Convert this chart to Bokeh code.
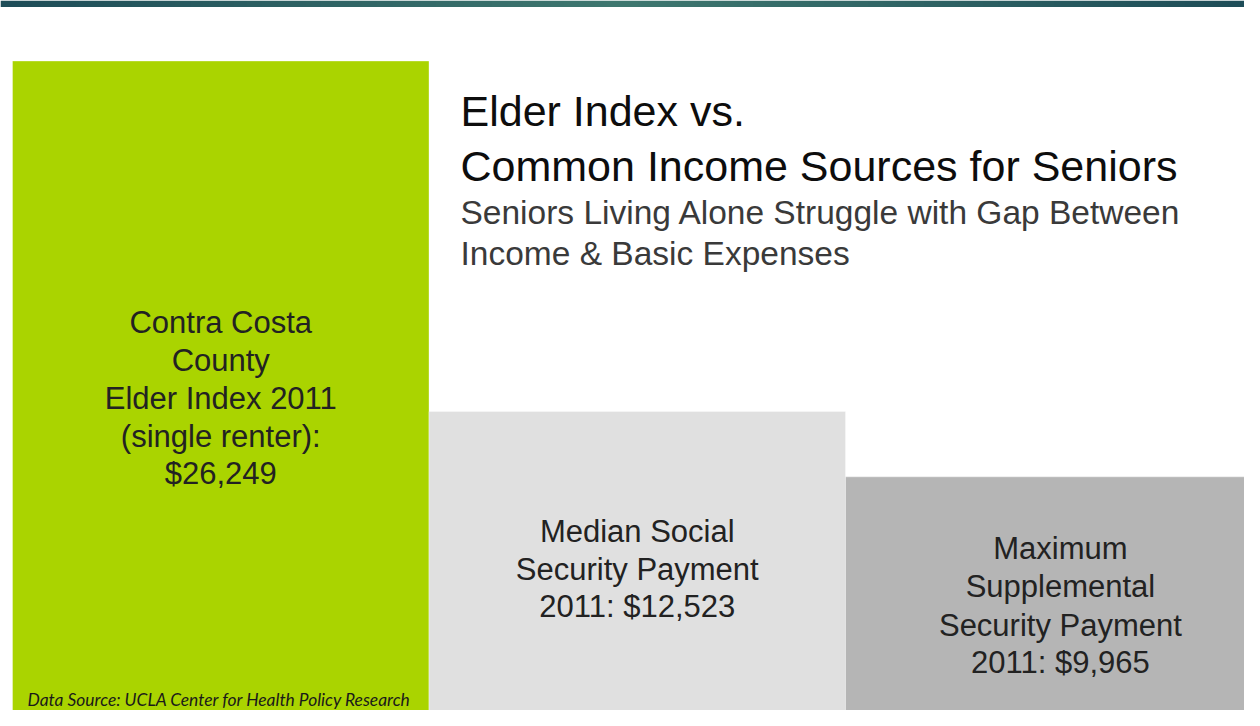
import numpy as np
from bokeh.plotting import figure
from bokeh.models import Range1d, Label, ColumnDataSource
from bokeh.embed import file_html
from bokeh.resources import INLINE

# ---- data ----
categories = ["Elder Index 2011 (single renter)",
              "Median Social Security Payment 2011",
              "Maximum Supplemental Security Payment 2011"]
values = [26249, 12523, 9965]
bar_colors = ["#AAD400", "#E0E0E0", "#B5B5B5"]
bar_labels = [
    ["Contra Costa", "County", "Elder Index 2011", "(single renter):", "$26,249"],
    ["Median Social", "Security Payment", "2011: $12,523"],
    ["Maximum", "Supplemental", "Security Payment", "2011: $9,965"],
]
title_lines = ["Elder Index vs.", "Common Income Sources for Seniors"]
subtitle_lines = ["Seniors Living Alone Struggle with Gap Between",
                  "Income & Basic Expenses"]
source_text = "Data Source: UCLA Center for Health Policy Research"

# ---- layout ----
W, H = 1244, 710
BAR_PX = 416.5            # pixels per category unit
LEFT_PX = 12              # left edge of first bar
PX_PER_DOLLAR = 0.025536
BASE_PX = 730.8           # zero line (px from top)

x0 = -0.5 - LEFT_PX / BAR_PX
x1 = x0 + W / BAR_PX
y0 = (BASE_PX - H) / PX_PER_DOLLAR
y1 = BASE_PX / PX_PER_DOLLAR

p = figure(width=W, height=H, x_range=Range1d(x0, x1), y_range=Range1d(y0, y1),
           output_backend="svg", toolbar_location=None, min_border=0,
           x_axis_location=None, y_axis_location=None)
p.grid.visible = False
p.outline_line_color = None
p.background_fill_color = "white"
p.border_fill_color = "white"

src = ColumnDataSource(dict(x=list(range(len(values))), top=values, color=bar_colors))
p.vbar(x="x", top="top", bottom=0, width=1.0, fill_color="color", source=src,
       line_color="white", line_alpha=0.35, line_width=1)

# top gradient band (decoration)
n = 400
t = np.abs(np.linspace(-1, 1, n))
c_edge = np.array([30, 77, 88])
c_mid = np.array([63, 120, 112])
cols = (c_mid[None, :] * (1 - t[:, None]) + c_edge[None, :] * t[:, None]).astype(np.uint8)
img = np.empty((1, n), dtype=np.uint32)
view = img.view(dtype=np.uint8).reshape((1, n, 4))
view[0, :, 0] = cols[:, 0]
view[0, :, 1] = cols[:, 1]
view[0, :, 2] = cols[:, 2]
view[0, :, 3] = 255
band_h = 6.5 / PX_PER_DOLLAR
p.image_rgba(image=[img], x=x0, y=y1 - band_h, dw=x1 - x0, dh=band_h)

FONT = "Liberation Sans"
def sy(center_y):
    # y of the text's visual centre (px from top) -> screen y (from bottom)
    return H - (center_y - 1)

for line, cy in zip(title_lines, [111, 166]):
    p.add_layout(Label(x=460, y=sy(cy), x_units="screen", y_units="screen", text=line,
                       text_font=FONT, text_font_size="43px", text_color="#0d0d0d",
                       text_align="left", text_baseline="alphabetic"))
for line, cy in zip(subtitle_lines, [213, 254]):
    p.add_layout(Label(x=460, y=sy(cy), x_units="screen", y_units="screen", text=line,
                       text_font=FONT, text_font_size="33.5px", text_color="#3a3a3a",
                       text_align="left", text_baseline="alphabetic"))

label_centers = [[323, 361, 399, 437, 474], [532, 570, 607], [549, 587, 626, 663]]
label_x = [0, 1, 2.016]
for lines, cys, lx in zip(bar_labels, label_centers, label_x):
    for line, cy in zip(lines, cys):
        p.add_layout(Label(x=lx, y=sy(cy), x_units="data", y_units="screen", text=line,
                           text_font=FONT, text_font_size="31px", text_color="#222222",
                           text_align="center", text_baseline="alphabetic"))

p.add_layout(Label(x=27, y=sy(700), x_units="screen", y_units="screen", text=source_text,
                   text_font="Lato", text_font_style="italic", text_font_size="17.4px",
                   text_color="#1a1a1a", text_align="left", text_baseline="alphabetic"))

open("out.html", "w").write(file_html(p, INLINE))
